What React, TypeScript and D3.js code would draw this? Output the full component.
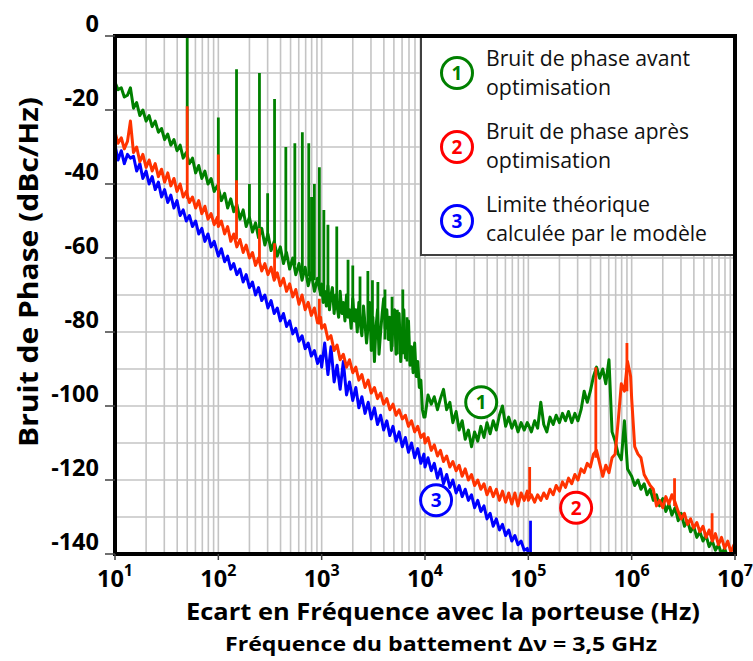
import React from 'react';
import * as d3 from 'd3';

// ---------- data ----------
const decades = [10, 100, 1000, 10000, 100000, 1000000];
// 0.03-decade grid (34 points per decade)
const mantissas = [1, 1.07, 1.15, 1.23, 1.32, 1.41, 1.51, 1.62, 1.74, 1.86, 2, 2.14, 2.29, 2.45, 2.63, 2.82, 3.02, 3.24, 3.47, 3.72, 3.98, 4.27, 4.57, 4.9, 5.25, 5.62, 6.03, 6.46, 6.92, 7.41, 7.94, 8.51, 9.12, 9.77];
// 0.015-decade grid (67 points per decade) for the noisiest stretch
const fineMantissas = [1, 1.035, 1.07, 1.11, 1.15, 1.19, 1.23, 1.27, 1.32, 1.37, 1.41, 1.46, 1.51, 1.57, 1.62, 1.68, 1.74, 1.8, 1.86, 1.93, 2, 2.07, 2.14, 2.21, 2.29, 2.37, 2.45, 2.54, 2.63, 2.72, 2.82, 2.92, 3.02, 3.13, 3.24, 3.35, 3.47, 3.59, 3.72, 3.85, 3.98, 4.12, 4.27, 4.42, 4.57, 4.73, 4.9, 5.07, 5.25, 5.43, 5.62, 5.82, 6.03, 6.24, 6.46, 6.68, 6.92, 7.16, 7.41, 7.67, 7.94, 8.22, 8.51, 8.81, 9.12, 9.44, 9.77];

// Green : bruit de phase avant optimisation (dBc/Hz), one row per decade
const greenDb = [
  [-12.5, -14.5, -14, -16.5, -16, -14, -19.5, -18, -21.5, -20, -23, -21.5, -24.5, -23, -26, -25, -28, -26.5, -29.5, -28, -31, -29.5, -33, -31.5, -34.5, -33, -37, -35, -38.5, -36.5, -40, -38.5, -42, -40.5],
  [-41, -44.5, -42.5, -46.5, -44, -47.5, -45.5, -49.5, -47, -51.5, -49, -53, -50.5, -54.5, -52, -56.5, -53.5, -58, -55.5, -59.5, -57, -61.5, -58.5, -63, -60, -64.5, -61.5, -66, -62.5, -67.5, -64, -69, -65.5, -70],
  [-67, -72, -69, -73, -67.5, -74, -70, -68, -75, -70, -73, -76, -69, -75, -72, -77, -70, -76, -74, -79, -71, -77, -74, -80, -72, -78, -81, -73, -78, -83, -78, -72, -85, -76, -88, -79, -74, -86, -80, -75, -71, -79, -74, -82, -76, -85, -78, -74, -86, -79, -75, -88, -80, -74, -87, -81, -77, -89, -84, -91, -83, -92, -88, -95, -93, -101, -103],
  [-103, -97, -99.5, -97.5, -101, -98, -95.5, -101, -99, -104.5, -101.5, -106.5, -104, -109, -106.5, -111, -107, -109.5, -105.5, -108.5, -104.5, -107.5, -104, -106.5, -102.5, -100, -105.5, -103, -106, -104, -107, -104.5, -106.5, -104.5],
  [-105, -107, -104, -106, -99, -105, -107, -103, -105, -102.5, -104.5, -102, -104, -101.5, -104.5, -102, -104, -101, -96, -99, -96, -92, -89.5, -92.5, -90, -94, -87.5, -107, -109.5, -113, -114.5, -104, -117, -118.5],
  [-119, -121.5, -120, -122.5, -121, -124, -122.5, -125.5, -124, -127, -125, -128.5, -126.5, -129.5, -127.5, -131, -129, -132.5, -131, -134, -132.5, -135.5, -134, -136.5, -135, -138, -136.5, -139, -137.5, -140, -138.5, -141, -142, -143],
];
const greenEnd: [number, number] = [1e7, -143];
// spikes : [frequency Hz, top dB, base dB]
const greenSpikes: [number, number, number][] = [
  [50, 0, -33], [100, -22, -41], [150, -9, -46], [200, -40, -49], [250, -10, -52], [300, -42.5, -55],
  [350, -17, -57], [450, -30, -60], [550, -29, -62], [650, -26, -64], [750, -29, -65], [800, -43.5, -66],
  [850, -40, -66], [950, -35.5, -67], [1050, -47, -70], [1150, -51, -71], [1400, -51.5, -72], [1800, -60.5, -74],
  [2000, -62, -75], [2350, -65, -77], [2800, -63.5, -79], [3100, -66, -80], [3500, -66.5, -82], [4100, -68.5, -82],
  [4800, -70.5, -84], [5400, -74, -86], [6100, -68.5, -86], [6700, -76, -88],
];

// Red : bruit de phase après optimisation
const redDb = [
  [-26, -29, -27.5, -30.5, -28.5, -23, -31.5, -30, -34, -32, -35.5, -33.5, -36.5, -34.5, -38, -36, -39.5, -37, -40.5, -38.5, -42, -40, -43.5, -42, -45, -43.5, -46.5, -44.5, -48, -46, -49.5, -48, -51, -49],
  [-51.5, -50, -53.5, -51.5, -55.5, -53.5, -57, -55, -58.5, -56.5, -60, -58.5, -62, -60, -63.5, -61.5, -64.5, -62.5, -66, -64, -67.5, -65.5, -69, -67, -70.5, -68.5, -72.5, -70, -74, -72, -75.5, -73.5, -77.5, -76],
  [-79, -78, -82, -81, -85, -83.5, -87.5, -86, -89.5, -87.5, -91, -89.5, -93, -91.5, -95, -93, -96.5, -95, -98, -96.5, -99.5, -98, -101, -99.5, -102.5, -101, -103.5, -102.5, -105.5, -104, -107, -105.5, -108.5, -107.5],
  [-110, -108.5, -112, -110.5, -113.5, -112, -115, -113.5, -116.5, -115, -117.5, -116, -119, -117, -120, -118.5, -121.5, -120, -122.5, -121, -124, -122, -124.5, -122.5, -125.5, -123, -126, -123.5, -126.5, -123.5, -127, -123.5, -125.5, -123],
  [-125.5, -124, -126, -124, -125.5, -123.5, -125, -122.5, -124, -121.5, -123, -120.5, -122, -119.5, -121, -118.5, -120, -117, -118, -115.5, -116.5, -113, -112, -115.5, -119, -116, -118, -114, -113, -104, -94, -96, -88, -92],
  [-98, -111, -113, -114, -118.5, -120, -121.5, -122.5, -127, -125.5, -127.5, -124.5, -126.5, -124, -126, -128.5, -130.5, -129, -132, -130.5, -133, -131.5, -134, -132.5, -135.5, -133.5, -136.5, -134.5, -137.5, -135.5, -138.5, -136.5, -139.5, -137.5],
];
const redEnd: [number, number] = [1e7, -139];
const redSpikes: [number, number, number][] = [
  [50, -19, -44], [100, -32, -51], [150, -39, -55], [250, -52, -61], [350, -56, -65], [950, -71, -78],
  [103000, -116.5, -124], [450000, -89.5, -114], [900000, -83, -96], [2600000, -119.5, -127], [6000000, -129, -136],
];

// Blue : limite théorique calculée par le modèle (10 Hz – 100 kHz)
const blueDb = [
  [-29.5, -33.5, -31, -34.5, -32, -33, -32.5, -36.5, -34.5, -38.5, -36.5, -40, -38, -41.5, -39.5, -43.5, -41.5, -45, -43, -46.5, -44.5, -48.5, -47, -50, -48.5, -51.5, -50, -53.5, -52, -55.5, -53.5, -57, -55.5, -58.5],
  [-59.5, -57.5, -61, -59.5, -63, -61.5, -64.5, -63, -66.5, -64.5, -68, -66.5, -70, -68, -71.5, -70, -73.5, -71.5, -75, -73.5, -77, -75, -78.5, -77, -80.5, -79, -82.5, -81, -84.5, -83, -86.5, -85, -88.5, -86.5],
  [-89.5, -83, -91.5, -84, -93.5, -89, -95.5, -88, -97, -93.5, -98.5, -95, -100.5, -97.5, -102, -99, -103.5, -100.5, -105, -102.5, -106.5, -104, -108, -105.5, -109.5, -107, -111, -108.5, -112.5, -110, -114, -111.5, -115.5, -113],
  [-116.5, -114, -117.5, -115.5, -119.5, -117, -121, -118.5, -122, -120, -123.5, -121.5, -124.5, -122.5, -125.5, -124, -127.5, -125.5, -128.5, -127, -130.5, -129, -132.5, -130.5, -133.5, -132, -135, -133.5, -136.5, -135, -137.5, -136.5, -139, -138.5],
];
const blueEnd: [number, number] = [1e5, -140];
const blueSpikes: [number, number, number][] = [[105000, -131, -141]];

const yTickValues = [0, -20, -40, -60, -80, -100, -120, -140];
const xExponents = [1, 2, 3, 4, 5, 6, 7];

const legendItems = [
  { n: '1', color: '#008000', lines: ['Bruit de phase avant', 'optimisation'], widths: [204, 125] },
  { n: '2', color: '#ff0000', lines: ['Bruit de phase après', 'optimisation'], widths: [203, 125] },
  { n: '3', color: '#0000ff', lines: ['Limite théorique', 'calculée par le modèle'], widths: [164, 221] },
];
const annotations = [
  { n: '1', color: '#008000', f: 35000, db: -99 },
  { n: '2', color: '#ff0000', f: 290000, db: -127.5 },
  { n: '3', color: '#0000ff', f: 12800, db: -125.5 },
];

const GREEN = '#008000';
const RED = '#ff3300';
const BLUE = '#0000ff';
const FONT = "'Open Sans', 'DejaVu Sans', sans-serif";

const W = 753;
const H = 661;
const L = 115, R = 735, T = 36, B = 554;

function buildSeries(db: number[][], end: [number, number]): [number, number][] {
  const pts: [number, number][] = [];
  db.forEach((row, i) => {
    const m = row.length > mantissas.length ? fineMantissas : mantissas;
    row.forEach((v, k) => pts.push([decades[i] * m[k], v]));
  });
  pts.push(end);
  return pts;
}

export default function App() {
  const x = d3.scaleLog().domain([10, 1e7]).range([L, R]);
  const y = d3.scaleLinear().domain([-140, 0]).range([B, T]);
  const line = d3.line<[number, number]>().x(d => x(d[0])).y(d => y(d[1]));

  const green = buildSeries(greenDb, greenEnd);
  const red = buildSeries(redDb, redEnd);
  const blue = buildSeries(blueDb, blueEnd);

  const xGrid = x.ticks();
  const yGrid = y.ticks(14);

  const spikePath = (s: [number, number, number][]) =>
    s.map(([f, t, b]) => `M${x(f)},${y(b)}L${x(f)},${y(t)}`).join('');

  const series = [
    { pts: green, spikes: greenSpikes, color: GREEN },
    { pts: blue, spikes: blueSpikes, color: BLUE },
    { pts: red, spikes: redSpikes, color: RED },
  ];

  return (
    <svg width={W} height={H} style={{ position: 'absolute', left: 0, top: 0, background: '#fff' }} fontFamily={FONT}>
      <defs>
        <clipPath id="plotClip">
          <rect x={L} y={T} width={R - L} height={B - T} />
        </clipPath>
      </defs>
      <rect x={0} y={0} width={W} height={H} fill="#fff" />
      {/* grid */}
      <g stroke="#c4c4c4" strokeWidth={1.6}>
        {xGrid.map((v, i) => (
          <line key={'xg' + i} x1={x(v)} x2={x(v)} y1={T} y2={B} />
        ))}
        {yGrid.map((v, i) => (
          <line key={'yg' + i} x1={L} x2={R} y1={y(v)} y2={y(v)} />
        ))}
      </g>
      {/* curves */}
      <g clipPath="url(#plotClip)" fill="none" strokeLinejoin="round">
        {series.map((s, i) => (
          <g key={i} stroke={s.color}>
            <path d={line(s.pts) || ''} strokeWidth={3} />
            <path d={spikePath(s.spikes)} strokeWidth={2.8} strokeLinecap="butt" />
          </g>
        ))}
      </g>
      {/* annotations */}
      {annotations.map(a => (
        <g key={'an' + a.n}>
          <circle cx={x(a.f)} cy={y(a.db)} r={15.5} fill="#fff" stroke={a.color} strokeWidth={3} />
          <text x={x(a.f)} y={y(a.db)} dy="0.36em" textAnchor="middle" fontWeight="bold" fontSize={19} fill={a.color}>{a.n}</text>
        </g>
      ))}
      {/* legend */}
      <rect x={421} y={T} width={R - 421} height={255 - T} fill="#fff" stroke="#404040" strokeWidth={2} />
      {legendItems.map((it, i) => (
        <g key={'lg' + i}>
          <circle cx={457} cy={73 + i * 74} r={15.5} fill="#fff" stroke={it.color} strokeWidth={3} />
          <text x={457} y={73 + i * 74} dy="0.36em" textAnchor="middle" fontWeight="bold" fontSize={19} fill={it.color}>{it.n}</text>
          {it.lines.map((t, j) => (
            <text key={j} x={486} y={66 + i * 73 + j * 29} fontSize={21} fill="#111" textLength={it.widths[j]} lengthAdjust="spacingAndGlyphs">{t}</text>
          ))}
        </g>
      ))}
      {/* frame */}
      <g stroke="#000" fill="none">
        <line x1={L - 2} x2={R + 2} y1={T} y2={T} strokeWidth={4} />
        <line x1={R} x2={R} y1={T - 2} y2={B + 2} strokeWidth={4} />
        <line x1={L} x2={L} y1={T - 2} y2={B + 2} strokeWidth={4} />
        <line x1={L - 2} x2={R + 2} y1={B} y2={B} strokeWidth={4} />
      </g>
      {/* ticks */}
      <g stroke="#404040" strokeWidth={1.5}>
        {yTickValues.map(v => (
          <line key={'yt' + v} x1={L - 10} x2={L} y1={y(v)} y2={y(v)} />
        ))}
        {xExponents.map(e => (
          <line key={'xt' + e} x1={x(Math.pow(10, e))} x2={x(Math.pow(10, e))} y1={B} y2={B + 6} />
        ))}
      </g>
      {/* y tick labels */}
      {yTickValues.map(v => (
        <text key={'yl' + v} x={99} y={y(v) - 4} textAnchor="end" fontWeight="bold" fontSize={23.5} fill="#000">{String(v)}</text>
      ))}
      {/* x tick labels */}
      {xExponents.map(e => (
        <text key={'xl' + e} x={x(Math.pow(10, e))} y={587} textAnchor="middle" fontWeight="bold" fontSize={23.5} fill="#000">
          10<tspan dy={-11} fontSize={16}>{e}</tspan>
        </text>
      ))}
      {/* axis titles */}
      <text x={443} y={620} textAnchor="middle" fontWeight="bold" fontSize={23.5} fill="#000" textLength={514} lengthAdjust="spacingAndGlyphs">
        Ecart en Fréquence avec la porteuse (Hz)
      </text>
      <text x={441} y={651} textAnchor="middle" fontWeight="bold" fontSize={19.5} fill="#000" textLength={432} lengthAdjust="spacingAndGlyphs">
        Fréquence du battement Δν = 3,5 GHz
      </text>
      <text transform="translate(29,272) rotate(-90)" dy="0.35em" textAnchor="middle" fontWeight="bold" fontSize={26} fill="#000" textLength={350} lengthAdjust="spacingAndGlyphs">
        Bruit de Phase (dBc/Hz)
      </text>
    </svg>
  );
}
